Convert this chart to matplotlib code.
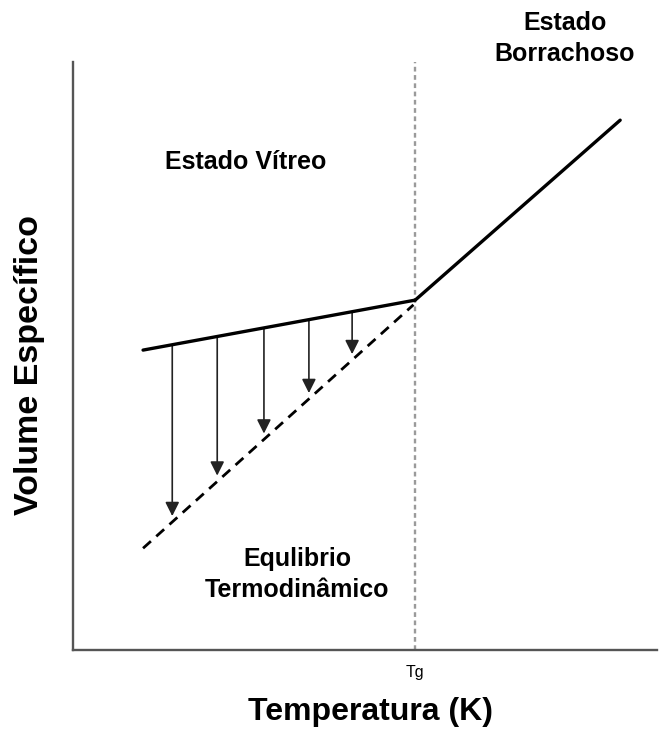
import numpy as np
import matplotlib.pyplot as plt

plt.rcParams['font.family'] = ['Liberation Sans', 'DejaVu Sans']

# Schematic data (arbitrary units, 0-100 on both axes)
tg = 58.6
glass_x = [12.0, 58.6]
glass_y = [51.0, 59.5]
rubber_x = [58.6, 93.7]
rubber_y = [59.5, 90.1]
equil_x = [12.0, 58.3]
equil_y = [17.3, 58.7]
arrow_x = [17.0, 24.7, 32.7, 40.4, 47.8]

fig = plt.figure(figsize=(6.61, 7.51), dpi=100)
ax = fig.add_axes([0.1104, 0.1345, 0.8835, 0.7830])
ax.set_xlim(0, 100)
ax.set_ylim(0, 100)

# Tg line
ax.axvline(tg, color='#9a9a9a', lw=1.7, linestyle=(0, (2, 1.5)), zorder=1)

# curves
ax.plot(glass_x, glass_y, color='black', lw=2.4, solid_capstyle='round', zorder=3)
ax.plot(rubber_x, rubber_y, color='black', lw=2.4, solid_capstyle='round', zorder=3)
ax.plot(equil_x, equil_y, color='black', lw=2.0, linestyle=(0, (3.8, 2.6)), zorder=3)

# relaxation arrows from glass line down to equilibrium line
top = np.interp(arrow_x, glass_x, glass_y)
bottom = np.interp(arrow_x, equil_x, equil_y) + 1.0
for x, y0, y1 in zip(arrow_x, top, bottom):
    ax.annotate('', xy=(x, y1), xytext=(x, y0),
                arrowprops=dict(arrowstyle='-|>', color='#222222', lw=1.2,
                                mutation_scale=21, shrinkA=0, shrinkB=0),
                zorder=2)

# region labels
ax.text(29.5, 83.0, 'Estado Vítreo', ha='center', va='center',
        fontsize=18, fontweight='bold')
ax.text(84.2, 104.0, 'Estado\nBorrachoso', ha='center', va='center',
        fontsize=18, fontweight='bold', linespacing=1.35)
ax.text(38.4, 12.8, 'Equlibrio\nTermodinâmico', ha='center', va='center',
        fontsize=18, fontweight='bold', linespacing=1.35)

# axes styling
for s in ['top', 'right']:
    ax.spines[s].set_visible(False)
for s in ['left', 'bottom']:
    ax.spines[s].set_color('#555555')
    ax.spines[s].set_linewidth(1.7)

ax.set_xticks([tg])
ax.set_xticklabels(['Tg'])
ax.set_yticks([])
ax.tick_params(axis='x', length=0, pad=11, labelsize=11.5)

ax.set_xlabel('Temperatura (K)', fontsize=23, fontweight='bold')
ax.set_ylabel('Volume Específico', fontsize=24.5, fontweight='bold')
ax.xaxis.label.set_va('center')
ax.yaxis.label.set_va('center')
ax.xaxis.set_label_coords(0.509, -0.106)
ax.yaxis.set_label_coords(-0.074, 0.485)

fig.savefig('out.png', dpi=100)
